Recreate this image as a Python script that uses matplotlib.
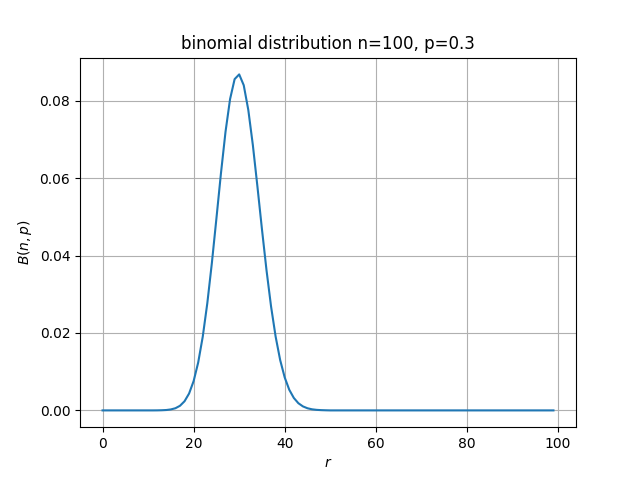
import matplotlib
matplotlib.use("Agg")
import matplotlib.pyplot as plt

# r = 0..99, probabilities (near zero away from the peak)
r = list(range(100))
tail_low = [0.0] * 12
body = [0.00001, 0.00004, 0.00010, 0.00025, 0.00056, 0.00119, 0.00236, 0.00436,
        0.00758, 0.01237, 0.01904, 0.02767, 0.03804, 0.04956, 0.06127, 0.07197,
        0.08041, 0.08556, 0.08678, 0.08398, 0.07761, 0.06854, 0.05788, 0.04678,
        0.03620, 0.02683, 0.01907, 0.01299, 0.00849, 0.00532, 0.00321, 0.00185,
        0.00103, 0.00055, 0.00028, 0.00014, 0.00007, 0.00003]
prob = tail_low + body
prob = prob + [0.0] * (100 - len(prob))

fig = plt.figure(figsize=(6.4, 4.8), dpi=100)
plt.plot(r, prob)
plt.title("binomial distribution n=100, p=0.3")
plt.xlabel("$r$")
plt.ylabel("$B(n,p)$")
plt.grid()
plt.savefig("out.png")
